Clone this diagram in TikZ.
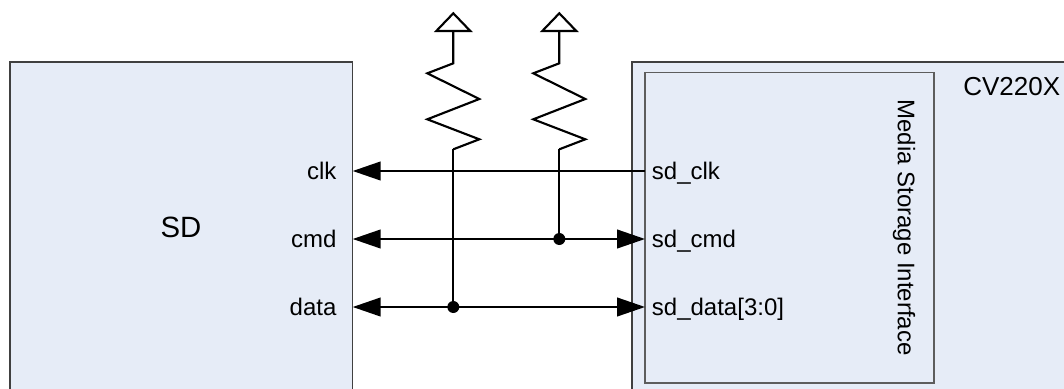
\documentclass[tikz,border=0pt]{standalone}
\usepackage{fontspec}
\setmainfont{Liberation Sans}
\usetikzlibrary{arrows.meta,positioning}
\definecolor{boxfill}{RGB}{230,236,247}
\definecolor{boxline}{RGB}{64,64,64}

\begin{document}
\begin{tikzpicture}[x=0.75pt,y=-0.75pt,
        blk/.style={draw=boxline, line width=1pt, fill=boxfill},
        wire/.style={line width=1.6pt, line join=miter},
        bothtip/.style={{Triangle[length=21pt,width=14pt]}-{Triangle[length=21pt,width=14pt]}},
        onetip/.style={-{Triangle[length=21pt,width=14pt]}},
        lbl/.style={inner sep=0pt, font=\fontsize{18}{18}\selectfont, text height=13pt, text depth=0pt}]
        \useasboundingbox (0,0) rectangle (1064,389);
        \clip (0,0) rectangle (1064,389);
        \fill[white] (0,0) rectangle (1064,389);

        % blocks
        \draw[blk] (10,62) rectangle (352.7,400);
        \draw[blk] (632,62) rectangle (1080,400);
        \draw[blk, draw=boxline!85] (645,72.7) rectangle (934,383);

        \node[lbl, font=\fontsize{22}{22}\selectfont, text height=15.8pt] (sd) at (181,227) {SD};
        \node[lbl, font=\fontsize{19.5}{19.5}\selectfont, text height=14pt, anchor=west] (cv) at (963,86) {CV220X};
        \node[lbl, rotate=-90] (msi) at (906.5,227.5) {Media Storage Interface};

        % pins
        \coordinate (clkL) at (352.7,171);
        \coordinate (cmdL) at (352.7,239);
        \coordinate (datL) at (352.7,307);
        \coordinate (clkR) at (645,171);
        \coordinate (cmdR) at (645,239);
        \coordinate (datR) at (645,307);
        \coordinate (jcmd) at (559.3,239);
        \coordinate (jdat) at (453.3,307);

        \node[lbl, left=12pt of clkL] (clk) {clk};
        \node[lbl, left=12pt of cmdL] (cmd) {cmd};
        \node[lbl, left=12pt of datL] (dat) {data};
        \node[lbl, right=5pt of clkR] (sdclk) {sd\_clk};
        \node[lbl, right=5pt of cmdR] (sdcmd) {sd\_cmd};
        \node[lbl, right=5pt of datR] (sddat) {sd\_data[3:0]};

        % pull-ups
        \draw[wire] (453.3,13.3) -- (470.3,31) -- (436.3,31) -- cycle;
        \draw[wire] (453.3,31) -- (453.3,63.3) -- (427.3,73.3) -- (479.3,99) -- (427.3,119.3) -- (479.3,139.3) -- (453.3,149.3) coordinate (rdat);
        \draw[wire] (559.3,13.3) -- (576.3,31) -- (542.3,31) -- cycle;
        \draw[wire] (559.3,31) -- (559.3,63.3) -- (533.3,73.3) -- (585.3,99) -- (533.3,119.3) -- (585.3,139.3) -- (559.3,149.3) coordinate (rcmd);
        \draw[wire] (rdat) -- (jdat);
        \draw[wire] (rcmd) -- (jcmd);

        % signals
        \draw[wire, onetip] (clkR) -- (clkL);
        \draw[wire, bothtip] (cmdL) -- (cmdR);
        \draw[wire, bothtip] (datL) -- (datR);
        \fill (jcmd) circle[radius=6];
        \fill (jdat) circle[radius=6];
    \end{tikzpicture}
\end{document}
